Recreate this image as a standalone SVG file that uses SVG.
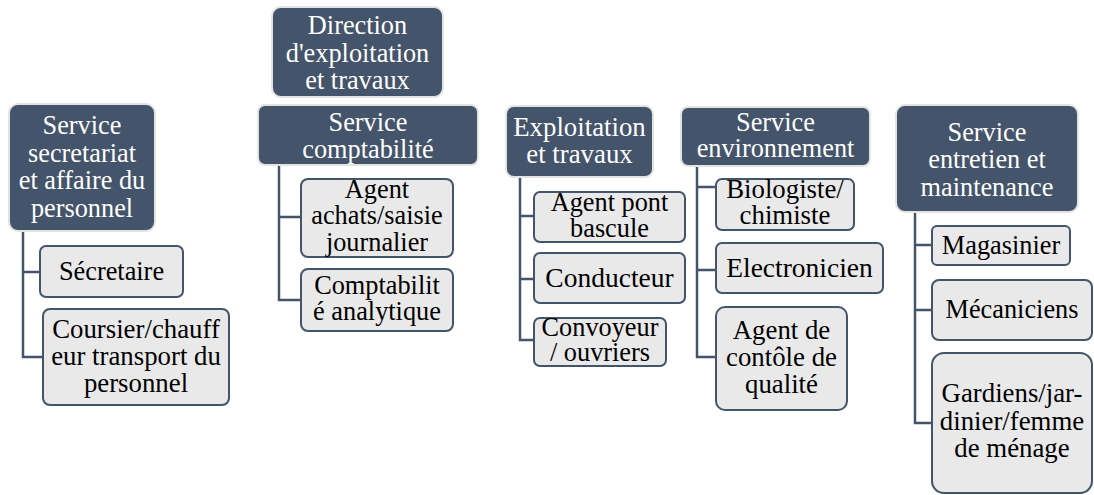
<svg xmlns="http://www.w3.org/2000/svg" width="1094" height="495" viewBox="0 0 1094 495">
<style>
.d{fill:#44546a;stroke:#e3e3e3;stroke-width:2}
.l{fill:#e9e9e9;stroke:#44546a;stroke-width:2}
.c{fill:none;stroke:#44546a;stroke-width:2.5}
.t{font-family:'Liberation Serif','Times New Roman',Tinos,'DejaVu Serif',serif;font-size:26.3px;text-anchor:middle}
.w{fill:#ffffff}
.b{fill:#000000}
</style>
<rect width="1094" height="495" fill="#ffffff"/>
<g id="connectors">
<path class="c" d="M23 231V357H43M23 272H40"/>
<path class="c" d="M279 165V300H301M279 217H301"/>
<path class="c" d="M520 177V340H534M520 216H534M520 279H534"/>
<path class="c" d="M697 166V357H716M697 187H716M697 270H716"/>
<path class="c" d="M915 212V423H932M915 245H932M915 310H932"/>
</g>
<g id="n-secretariat"><rect class="d" x="9" y="104" width="146" height="127" rx="9"/>
<text class="t w"><tspan x="82" y="134">Service</tspan><tspan x="82" y="162">secretariat</tspan><tspan x="82" y="189">et affaire du</tspan><tspan x="82" y="217">personnel</tspan></text></g>
<g id="n-secretaire"><rect class="l" x="40" y="246" width="143" height="51" rx="6"/>
<text class="t b" x="111.5" y="280">Sécretaire</text></g>
<g id="n-coursier"><rect class="l" x="43" y="309" width="186" height="96" rx="7"/>
<text class="t b" style="font-size:26.8px"><tspan x="136" y="338">Coursier/chauff</tspan><tspan x="136" y="365">eur transport du</tspan><tspan x="136" y="392">personnel</tspan></text></g>
<g id="n-direction"><rect class="d" x="272" y="7" width="171" height="90" rx="9"/>
<text class="t w"><tspan x="357.5" y="34">Direction</tspan><tspan x="357.5" y="62">d'exploitation</tspan><tspan x="357.5" y="89">et travaux</tspan></text></g>
<g id="n-comptabilite"><rect class="d" x="258" y="105" width="220" height="60" rx="7"/>
<text class="t w"><tspan x="368" y="131">Service</tspan><tspan x="368" y="158">comptabilité</tspan></text></g>
<g id="n-agent-achats"><rect class="l" x="301" y="179" width="152" height="78" rx="7"/>
<text class="t b"><tspan x="377" y="198">Agent</tspan><tspan x="377" y="224">achats/saisie</tspan><tspan x="377" y="251">journalier</tspan></text></g>
<g id="n-comptabilite-analytique"><rect class="l" x="301" y="269" width="152" height="62" rx="7"/>
<text class="t b"><tspan x="377" y="294">Comptabilit</tspan><tspan x="377" y="320">é analytique</tspan></text></g>
<g id="n-exploitation"><rect class="d" x="506" y="106" width="147" height="71" rx="8"/>
<text class="t w" style="font-size:26.8px"><tspan x="579.5" y="136">Exploitation</tspan><tspan x="579.5" y="163">et travaux</tspan></text></g>
<g id="n-agent-pont"><rect class="l" x="534" y="192" width="151" height="50" rx="6"/>
<text class="t b"><tspan x="609.5" y="211">Agent pont</tspan><tspan x="609.5" y="237">bascule</tspan></text></g>
<g id="n-conducteur"><rect class="l" x="534" y="253" width="151" height="50" rx="6"/>
<text class="t b" style="font-size:27.5px" x="609.5" y="287">Conducteur</text></g>
<g id="n-convoyeur"><rect class="l" x="534" y="318" width="132" height="48" rx="6"/>
<text class="t b"><tspan x="600" y="336">Convoyeur</tspan><tspan x="600" y="361">/ ouvriers</tspan></text></g>
<g id="n-environnement"><rect class="d" x="681" y="107" width="189" height="59" rx="7"/>
<text class="t w"><tspan x="775.5" y="131">Service</tspan><tspan x="775.5" y="157">environnement</tspan></text></g>
<g id="n-biologiste"><rect class="l" x="716" y="179" width="138" height="51" rx="6"/>
<text class="t b" style="font-size:26.8px"><tspan x="785" y="198">Biologiste/</tspan><tspan x="785" y="224">chimiste</tspan></text></g>
<g id="n-electronicien"><rect class="l" x="716" y="243" width="167" height="50" rx="6"/>
<text class="t b" style="font-size:27.5px" x="799.5" y="277">Electronicien</text></g>
<g id="n-controle"><rect class="l" x="716" y="307" width="131" height="103" rx="9"/>
<text class="t b" style="font-size:26.8px"><tspan x="781.5" y="339">Agent de</tspan><tspan x="781.5" y="366">contôle de</tspan><tspan x="781.5" y="393">qualité</tspan></text></g>
<g id="n-entretien"><rect class="d" x="896" y="105" width="182" height="107" rx="9"/>
<text class="t w"><tspan x="987" y="141">Service</tspan><tspan x="987" y="168">entretien et</tspan><tspan x="987" y="196">maintenance</tspan></text></g>
<g id="n-magasinier"><rect class="l" x="932" y="226" width="138" height="39" rx="5"/>
<text class="t b" x="1001" y="254">Magasinier</text></g>
<g id="n-mecaniciens"><rect class="l" x="932" y="280" width="160" height="60" rx="7"/>
<text class="t b" x="1012" y="318">Mécaniciens</text></g>
<g id="n-gardiens"><rect class="l" x="932" y="353" width="160" height="140" rx="12"/>
<text class="t b" style="font-size:26.8px"><tspan x="1012" y="402">Gardiens/jar-</tspan><tspan x="1012" y="430">dinier/femme</tspan><tspan x="1012" y="457">de ménage</tspan></text></g>
</svg>
